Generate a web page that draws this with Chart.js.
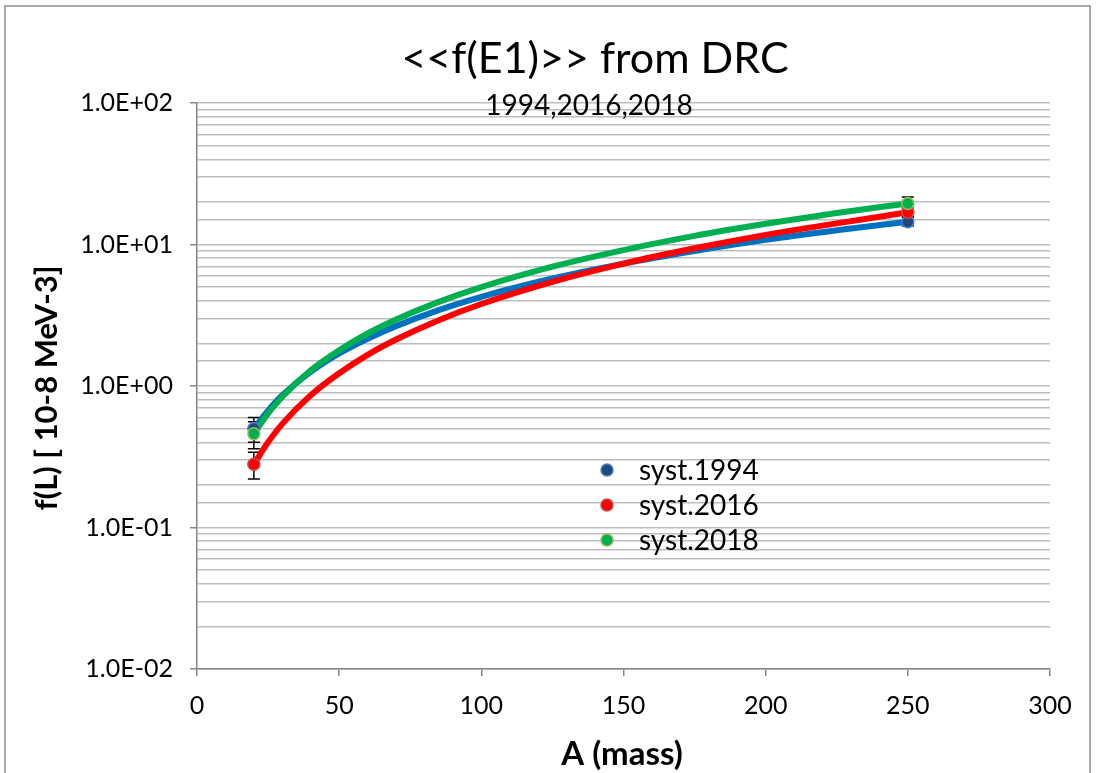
<!DOCTYPE html>
<html>
<head>
<meta charset="utf-8">
<script src="https://cdn.jsdelivr.net/npm/chart.js@4.4.1/dist/chart.umd.min.js"></script>
<style>
  body { margin: 0; background: #fff; }
  canvas { display: block; }
</style>
</head>
<body>
<canvas id="chart" width="1096" height="773"></canvas>
<script>
// --- data ---
const massPoints = [20, 250];
const syst1994 = [0.5, 14.5];
const syst2016 = [0.28, 16.9];
const syst2018 = [0.46, 19.5];
const err1994 = [0.1, 1.0];
const err2016 = [0.06, 1.2];
const err2018 = [0.1, 2.2];

// trend lines (power fits in the original)
const trendMass = [20, 25, 30, 40, 50, 60, 70, 85, 100, 125, 150, 175, 200, 225, 250];
const trend1994 = [0.5, 0.67, 0.86, 1.26, 1.70, 2.16, 2.65, 3.44, 4.27, 5.75, 7.33, 9.0, 10.8, 12.6, 14.5];
const trend2016 = [0.28, 0.40, 0.54, 0.86, 1.23, 1.66, 2.13, 2.92, 3.80, 5.45, 7.33, 9.4, 11.7, 14.1, 16.9];
const trend2018 = [0.46, 0.64, 0.84, 1.29, 1.79, 2.35, 2.95, 3.93, 5.0, 6.97, 9.13, 11.5, 14.0, 16.7, 19.5];

const seriesNames = ["syst.1994", "syst.2016", "syst.2018"];
const xMin = 0, xMax = 300, xStep = 50;
const yMin = 0.01, yMax = 100;

const FONT = "Lato, 'Open Sans', sans-serif";

const toXY = (xs, ys) => xs.map((x, i) => ({ x: x, y: ys[i] }));

const styles = [
  { line: "#0070c0", fill: "#1f497d", edge: "#4f81bd" },
  { line: "#ff0000", fill: "#ff0000", edge: "#c0504d" },
  { line: "#00b050", fill: "#00b050", edge: "#9bbb59" },
];

const pointSets = [syst1994, syst2016, syst2018];
const errSets = [err1994, err2016, err2018];
const trendSets = [trend1994, trend2016, trend2018];

const isMajor = (v) => Math.abs(Math.log10(v) - Math.round(Math.log10(v))) < 1e-6;
function sci(v) {
  const e = Math.round(Math.log10(v));
  return "1.0E" + (e < 0 ? "-" : "+") + String(Math.abs(e)).padStart(2, "0");
}

const datasets = [];
trendSets.forEach((t, i) => {
  datasets.push({
    type: "line",
    data: toXY(trendMass, t),
    borderColor: styles[i].line,
    borderWidth: 6,
    pointRadius: 0,
    cubicInterpolationMode: "monotone",
    fill: false,
    order: 10 - i,
  });
});
pointSets.forEach((p, i) => {
  datasets.push({
    type: "scatter",
    label: seriesNames[i],
    data: toXY(massPoints, p),
    errors: errSets[i],
    backgroundColor: styles[i].fill,
    borderColor: styles[i].edge,
    borderWidth: 1.5,
    pointRadius: 6,
    order: 3 - i,
  });
});

// error bars under the markers
const errorBars = {
  id: "errorBars",
  beforeDatasetsDraw(chart) {
    const ctx = chart.ctx;
    const xs = chart.scales.x, ys = chart.scales.y;
    ctx.save();
    ctx.strokeStyle = "#000";
    ctx.lineWidth = 1.5;
    chart.data.datasets.forEach((ds) => {
      if (!ds.errors) return;
      ds.data.forEach((pt, j) => {
        const px = xs.getPixelForValue(pt.x);
        const top = ys.getPixelForValue(pt.y + ds.errors[j]);
        const bot = ys.getPixelForValue(pt.y - ds.errors[j]);
        ctx.beginPath();
        ctx.moveTo(px, top); ctx.lineTo(px, bot);
        ctx.moveTo(px - 6, top); ctx.lineTo(px + 6, top);
        ctx.moveTo(px - 6, bot); ctx.lineTo(px + 6, bot);
        ctx.stroke();
      });
    });
    ctx.restore();
  },
};

// titles, legend and frame
const decorations = {
  id: "decorations",
  afterDraw(chart) {
    const ctx = chart.ctx;
    ctx.save();
    ctx.strokeStyle = "#8c8c8c";
    ctx.lineWidth = 1.5;
    ctx.strokeRect(5, 6, 1085, 820);

    ctx.fillStyle = "#000";
    ctx.textAlign = "center";
    ctx.textBaseline = "alphabetic";
    ctx.font = "43px " + FONT;
    ctx.fillText("<<f(E1)>> from DRC", 595, 73);
    ctx.font = "28px " + FONT;
    ctx.fillText("1994,2016,2018", 589, 115);

    ctx.font = "bold 33px " + FONT;
    ctx.fillText("A (mass)", 622, 765);
    ctx.save();
    ctx.translate(57, 388);
    ctx.rotate(-Math.PI / 2);
    ctx.font = "bold 31px " + FONT;
    ctx.fillText("f(L) [ 10-8 MeV-3]", 0, 0);
    ctx.restore();

    // legend inside the plot
    ctx.textAlign = "left";
    ctx.textBaseline = "middle";
    ctx.font = "28px " + FONT;
    chart.data.datasets.filter((d) => d.label).forEach((ds, i) => {
      const y = 470 + i * 35;
      ctx.beginPath();
      ctx.arc(607, y, 6, 0, Math.PI * 2);
      ctx.fillStyle = ds.backgroundColor;
      ctx.fill();
      ctx.strokeStyle = ds.borderColor;
      ctx.lineWidth = 1.5;
      ctx.stroke();
      ctx.fillStyle = "#000";
      ctx.fillText(ds.label, 639, y + 1);
    });
    ctx.restore();
  },
};

new Chart(document.getElementById("chart"), {
  data: { datasets: datasets },
  options: {
    responsive: false,
    devicePixelRatio: 1,
    animation: false,
    layout: { padding: { top: 103, right: 46, left: 0, bottom: 0 } },
    plugins: { legend: { display: false }, title: { display: false }, tooltip: { enabled: false } },
    scales: {
      x: {
        type: "linear",
        min: xMin,
        max: xMax,
        afterFit: (s) => { s.height = 104; },
        ticks: { stepSize: xStep, color: "#000", font: { family: FONT, size: 25 }, padding: 15, maxRotation: 0 },
        grid: { drawOnChartArea: false, drawTicks: true, tickLength: 7, color: "#868686", lineWidth: 1.5 },
        border: { color: "#868686", width: 1.5 },
      },
      y: {
        type: "logarithmic",
        min: yMin,
        max: yMax,
        afterFit: (s) => { s.width = 197; },
        ticks: {
          autoSkip: false,
          color: "#000",
          font: { family: FONT, size: 25 },
          padding: 17,
          callback: (v) => (isMajor(v) ? sci(v) : ""),
        },
        grid: {
          color: "#bdbdbd",
          lineWidth: 1.5,
          tickLength: 7,
          tickColor: (c) => (c.tick && isMajor(c.tick.value) ? "#868686" : "rgba(0,0,0,0)"),
        },
        border: { color: "#868686", width: 1.5 },
      },
    },
  },
  plugins: [errorBars, decorations],
});
</script>
</body>
</html>
